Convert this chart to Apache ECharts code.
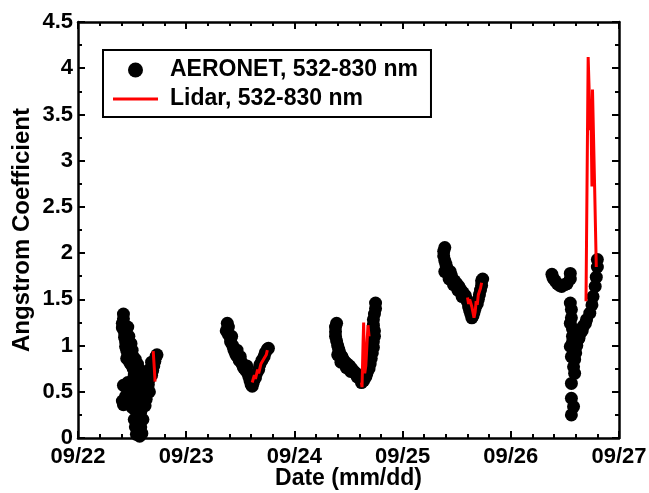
<!DOCTYPE html>
<html>
<head>
<meta charset="utf-8">
<script src="https://cdn.jsdelivr.net/npm/echarts@6/dist/echarts.min.js"></script>
<style>html,body{margin:0;padding:0;background:#fff;}#c{width:649px;height:493px;}</style>
</head>
<body>
<div id="c"></div>
<script>
// x = day of September (fractional), y = Angstrom coefficient
var xTickLabels = ['09/22','09/23','09/24','09/25','09/26','09/27'];
var xTickValues = [22,23,24,25,26,27];
var yTickValues = [0,0.5,1,1.5,2,2.5,3,3.5,4,4.5];

var aeronet22 = [[22.42,1.34],[22.42,1.29],[22.41,1.24],[22.41,1.19],[22.46,1.20],[22.43,1.14],[22.43,1.09],[22.44,1.04],[22.44,0.99],[22.45,0.95],[22.46,0.90],[22.45,0.86],[22.47,0.84],[22.48,0.81],[22.50,0.78],[22.51,0.75],[22.53,0.73],[22.55,0.70],[22.56,0.66],[22.58,0.64],[22.60,0.62],[22.62,0.60],[22.64,0.62],[22.66,0.64],[22.68,0.68],[22.69,0.73],[22.70,0.78],[22.71,0.83],[22.72,0.88],[22.73,0.90],[22.49,1.02],[22.50,0.95],[22.51,0.88],[22.53,0.85],[22.55,0.80],[22.57,0.74],[22.47,1.10],[22.48,0.97],[22.52,0.68],[22.61,0.70],[22.66,0.74],[22.68,0.82],
  [22.42,0.57],[22.41,0.40],[22.42,0.36],[22.44,0.45],[22.46,0.50],[22.48,0.53],[22.50,0.55],[22.53,0.56],[22.55,0.52],[22.57,0.55],[22.60,0.52],[22.62,0.48],[22.64,0.54],[22.65,0.58],[22.61,0.42],[22.59,0.38],[22.62,0.35],[22.56,0.45],[22.52,0.40],[22.50,0.33],[22.53,0.30],[22.55,0.24],[22.58,0.28],[22.60,0.20],[22.56,0.16],[22.53,0.12],[22.55,0.08],[22.54,0.04],[22.57,0.02],[22.59,0.05],[22.47,0.38],[22.49,0.45],[22.52,0.20],[22.58,0.12],[22.63,0.42],[22.66,0.50],[22.58,0.60],[22.51,0.62],[22.46,0.60]];
var aeronet23 = [[23.38,1.24],[23.39,1.20],[23.37,1.16],[23.39,1.12],[23.41,1.08],[23.41,1.04],[23.43,1.00],[23.44,0.96],[23.45,0.93],[23.46,0.90],[23.48,0.87],[23.49,0.84],[23.51,0.82],[23.52,0.79],[23.53,0.76],[23.55,0.73],[23.57,0.70],[23.58,0.66],[23.59,0.62],[23.60,0.58],[23.61,0.56],[23.62,0.60],[23.64,0.65],[23.65,0.70],[23.67,0.74],[23.68,0.79],[23.70,0.84],[23.72,0.88],[23.73,0.92],[23.75,0.96],[23.76,0.97],[23.42,1.10],[23.47,0.95],[23.50,0.88],[23.56,0.78]];
var aeronet24 = [[24.39,1.24],[24.38,1.20],[24.38,1.15],[24.38,1.10],[24.39,1.05],[24.40,1.00],[24.41,0.96],[24.42,0.92],[24.44,0.88],[24.45,0.85],[24.47,0.82],[24.49,0.80],[24.51,0.78],[24.53,0.75],[24.55,0.72],[24.57,0.70],[24.59,0.67],[24.61,0.64],[24.62,0.60],[24.64,0.62],[24.66,0.66],[24.67,0.70],[24.69,0.75],[24.70,0.80],[24.71,0.86],[24.72,0.92],[24.73,0.98],[24.73,1.04],[24.74,1.10],[24.74,1.16],[24.73,1.22],[24.73,1.28],[24.74,1.34],[24.75,1.40],[24.75,1.46],[24.40,0.90],[24.43,0.82],[24.48,0.76],[24.52,0.72],[24.58,0.66]];
var aeronet25 = [[25.39,2.06],[25.38,2.02],[25.38,1.97],[25.39,1.92],[25.40,1.88],[25.41,1.84],[25.39,1.80],[25.42,1.78],[25.44,1.80],[25.45,1.76],[25.43,1.72],[25.46,1.72],[25.48,1.70],[25.47,1.66],[25.50,1.67],[25.52,1.64],[25.51,1.60],[25.54,1.60],[25.56,1.57],[25.55,1.53],[25.58,1.54],[25.59,1.50],[25.60,1.47],[25.61,1.42],[25.62,1.38],[25.63,1.34],[25.64,1.30],[25.65,1.32],[25.66,1.36],[25.67,1.40],[25.69,1.45],[25.70,1.50],[25.71,1.55],[25.72,1.60],[25.73,1.65],[25.73,1.70],[25.74,1.72]];
var aeronet26 = [[26.38,1.77],[26.39,1.73],[26.41,1.70],[26.43,1.67],[26.45,1.65],[26.47,1.64],[26.50,1.66],[26.52,1.67],[26.55,1.78],[26.55,1.72],
  [26.55,1.46],[26.56,1.39],[26.55,1.24],[26.57,1.18],[26.57,1.10],[26.55,0.99],[26.56,0.88],[26.58,0.77],[26.59,0.70],[26.56,0.59],[26.56,0.43],[26.58,0.34],[26.56,0.25],[26.57,1.04],[26.58,0.95],[26.59,0.85],[26.60,0.92],[26.60,1.00],[26.56,1.30],
  [26.62,1.06],[26.64,1.13],[26.67,1.21],[26.70,1.28],[26.73,1.35],[26.75,1.44],[26.76,1.53],[26.78,1.64],[26.79,1.74],[26.80,1.85],[26.80,1.93],[26.61,1.00],[26.63,1.08],[26.66,1.16],[26.69,1.24]];

var lidar22 = [[22.695,0.94],[22.70,0.85],[22.705,0.76],[22.71,0.66],[22.712,0.61]];
var lidar23 = [[23.61,0.60],[23.63,0.68],[23.64,0.64],[23.66,0.74],[23.67,0.70],[23.69,0.80],[23.71,0.84],[23.72,0.82],[23.74,0.90],[23.75,0.95]];
var lidar24 = [[24.62,0.60],[24.625,0.55],[24.63,0.80],[24.635,1.05],[24.64,1.25],[24.645,0.95],[24.65,0.70],[24.66,0.78],[24.67,1.00],[24.68,1.22],[24.69,1.10]];
var lidar25 = [[25.60,1.52],[25.61,1.45],[25.62,1.50],[25.64,1.42],[25.66,1.30],[25.67,1.36],[25.68,1.48],[25.69,1.44],[25.70,1.55],[25.72,1.62],[25.73,1.68]];
var lidar26 = [[26.695,1.48],[26.715,4.12],[26.725,4.12],[26.735,3.33],[26.74,3.60],[26.75,2.72],[26.755,3.77],[26.765,3.77],[26.775,2.70],[26.79,1.85]];

var aeronetName = 'AERONET, 532-830 nm';
var lidarName = 'Lidar, 532-830 nm';
var FONT = "'Liberation Sans', Arial, sans-serif";

var chart = echarts.init(document.getElementById('c'));
function xAxisCfg(pos, show) {
  return {
    type: 'value', position: pos, min: 22, max: 27, interval: 1,
    axisLine: { show: true, onZero: false, lineStyle: { color: '#000', width: 2.5 } },
    axisTick: { show: true, inside: true, length: 7, lineStyle: { color: '#000', width: 2 } },
    minorTick: { show: true, splitNumber: 5, length: 4, lineStyle: { color: '#000', width: 2 } },
    splitLine: { show: false }, minorSplitLine: { show: false },
    axisLabel: show ? { show: true, margin: 8, color: '#000', fontSize: 22, fontWeight: 'bold', fontFamily: FONT,
      formatter: function (v) { var i = xTickValues.indexOf(v); return i >= 0 ? xTickLabels[i] : ''; } } : { show: false },
    name: show ? 'Date (mm/dd)' : '', nameLocation: 'middle', nameGap: 29, nameMoveOverlap: false,
    nameTextStyle: { color: '#000', fontSize: 23, fontWeight: 'bold', fontFamily: FONT }
  };
}
function yAxisCfg(pos, show) {
  return {
    type: 'value', position: pos, min: 0, max: 4.5, interval: 0.5,
    axisLine: { show: true, onZero: false, lineStyle: { color: '#000', width: 2.5 } },
    axisTick: { show: true, inside: true, length: 7, lineStyle: { color: '#000', width: 2 } },
    minorTick: { show: true, splitNumber: 2, length: 4, lineStyle: { color: '#000', width: 2 } },
    splitLine: { show: false }, minorSplitLine: { show: false },
    axisLabel: show ? { show: true, margin: 5, color: '#000', fontSize: 22, fontWeight: 'bold', fontFamily: FONT,
      formatter: function (v) { return yTickValues.indexOf(v) >= 0 ? String(v) : ''; } } : { show: false },
    name: show ? 'Angstrom Coefficient' : '', nameLocation: 'middle', nameGap: 44, nameRotate: 90, nameMoveOverlap: false,
    nameTextStyle: { color: '#000', fontSize: 24, fontWeight: 'bold', fontFamily: FONT }
  };
}
function lidarSeries(d) {
  return { name: lidarName, type: 'line', xAxisIndex: 0, yAxisIndex: 0, data: d, symbol: 'none',
    lineStyle: { color: '#ff0000', width: 3 }, itemStyle: { color: '#ff0000' }, z: 5, silent: true, animation: false };
}
var option = {
  animation: false,
  backgroundColor: '#fff',
  grid: { left: 78, right: 30, top: 22, bottom: 55, containLabel: false, outerBoundsMode: 'none' },
  xAxis: [xAxisCfg('bottom', true), xAxisCfg('top', false)],
  yAxis: [yAxisCfg('left', true), yAxisCfg('right', false)],
  legend: {
    left: 103, top: 50, orient: 'vertical',
    itemWidth: 45, itemHeight: 15, itemGap: 5,
    padding: [8, 13, 6, 10],
    borderColor: '#000', borderWidth: 2, backgroundColor: '#fff',
    textStyle: { color: '#000', fontSize: 23, fontWeight: 'bold', fontFamily: FONT, lineHeight: 24, padding: [0, 0, 0, 7] },
    data: [
      { name: aeronetName, icon: 'circle' },
      { name: lidarName, icon: 'path://M0,0L45,0L45,3L0,3Z' }
    ],
    selectedMode: false
  },
  series: [
    { name: aeronetName, type: 'scatter', xAxisIndex: 0, yAxisIndex: 0,
      data: [].concat(aeronet22, aeronet23, aeronet24, aeronet25, aeronet26),
      symbol: 'circle', symbolSize: 13, itemStyle: { color: '#000', opacity: 1 }, z: 3, silent: true },
    lidarSeries(lidar22), lidarSeries(lidar23), lidarSeries(lidar24), lidarSeries(lidar25), lidarSeries(lidar26)
  ]
};
chart.setOption(option);
</script>
</body>
</html>
